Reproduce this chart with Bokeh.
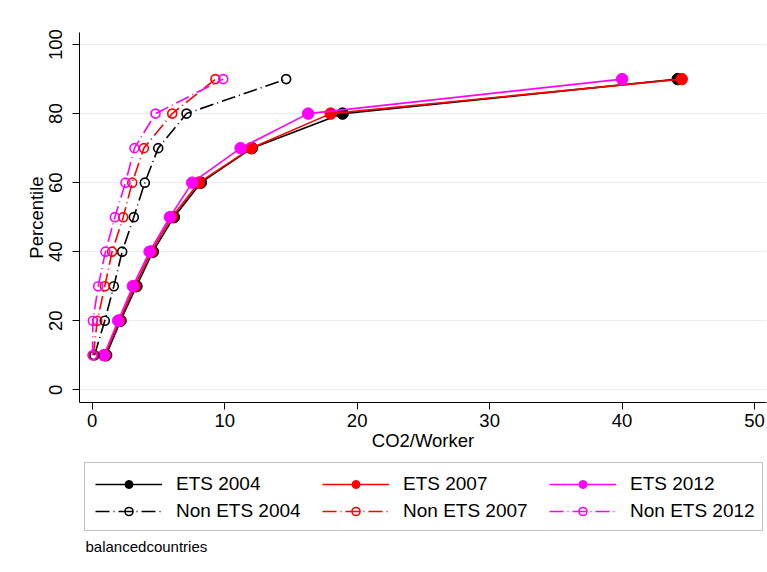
from bokeh.plotting import figure
from bokeh.models import Legend, LegendItem, Range1d, FixedTicker, Label, BoxAnnotation
from bokeh.layouts import column
from bokeh.embed import file_html
from bokeh.resources import INLINE

# Percentile of the CO2-per-worker distribution
percentiles = [10, 20, 30, 40, 50, 60, 70, 80, 90]

# ETS sectors
ets_2004 = [1.05, 2.14, 3.34, 4.58, 6.16, 8.20, 12.05, 18.9, 44.2]
ets_2007 = [0.95, 2.05, 3.20, 4.45, 6.00, 8.05, 12.0, 18.0, 44.5]
ets_2012 = [0.88, 1.96, 3.07, 4.33, 5.86, 7.55, 11.2, 16.3, 40.0]

# Non-ETS sectors
non_ets_2004 = [0.17, 0.95, 1.63, 2.26, 3.14, 3.97, 4.98, 7.12, 14.64]
non_ets_2007 = [0.08, 0.38, 0.95, 1.50, 2.34, 3.02, 3.90, 6.04, 9.30]
non_ets_2012 = [0.02, 0.05, 0.45, 1.00, 1.71, 2.51, 3.19, 4.78, 9.89]

x_ticks = [0, 10, 20, 30, 40, 50]
y_ticks = [0, 20, 40, 60, 80, 100]

FONT = "Liberation Sans"
W = 767
MAIN_H = 455
LEG_H = 117

colors = ["black", "red", "magenta"]
years = ["2004", "2007", "2012"]
ets_series = [ets_2004, ets_2007, ets_2012]
non_series = [non_ets_2004, non_ets_2007, non_ets_2012]
NON_DASH = "14 4 1 4"


def draw_series(fig):
    """Draw all six series on fig; returns the renderers for the legend."""
    ets_r, non_r = [], []
    for xs, c in zip(ets_series, colors):
        ln = fig.line(xs, percentiles, line_color=c, line_width=1.6)
        mk = fig.scatter(xs, percentiles, size=11.5, fill_color=c, line_color=c)
        ets_r.append([ln, mk])
    for xs, c in zip(non_series, colors):
        ln = fig.line(xs, percentiles, line_color=c, line_width=1.6, line_dash=NON_DASH)
        mk = fig.scatter(xs, percentiles, size=9, fill_color="white", fill_alpha=0,
                         line_color=c, line_width=1.6)
        non_r.append([ln, mk])
    return ets_r, non_r


p = figure(
    width=W, height=MAIN_H,
    output_backend="svg", toolbar_location=None,
    x_range=Range1d(-0.96, 50.9), y_range=Range1d(-3.7, 103.5),
    min_border_left=79, min_border_right=1, min_border_top=32, min_border_bottom=53,
    background_fill_color="white", border_fill_color="white",
)
p.outline_line_color = None

# axes
for ax in (p.xaxis[0], p.yaxis[0]):
    ax.axis_line_color = "black"
    ax.axis_line_width = 1
    ax.major_tick_out = 7
    ax.major_tick_in = 0
    ax.minor_tick_line_color = None
    ax.major_tick_line_color = "black"
    ax.major_label_text_font = FONT
    ax.major_label_text_font_size = "18.5px"
    ax.major_label_text_color = "black"
    ax.axis_label_text_font = FONT
    ax.axis_label_text_font_size = "18.5px"
    ax.axis_label_text_font_style = "normal"
    ax.axis_label_text_color = "black"

p.xaxis.ticker = FixedTicker(ticks=x_ticks)
p.yaxis.ticker = FixedTicker(ticks=y_ticks)
p.xaxis.axis_label = "CO2/Worker"
p.yaxis.axis_label = "Percentile"
p.xaxis.major_label_standoff = 4
p.xaxis.axis_label_standoff = 0
p.yaxis.major_label_standoff = 10
p.yaxis.axis_label_standoff = 0
p.yaxis.major_label_orientation = "vertical"

p.xgrid.grid_line_color = None
p.ygrid.grid_line_color = "#e6eef1"
p.ygrid.grid_line_width = 1.2

draw_series(p)

# legend panel underneath the chart; its view window excludes the data,
# so only the legend keys, the legend box and the note are visible
leg = figure(
    width=W, height=LEG_H, output_backend="svg", toolbar_location=None,
    x_range=Range1d(0, 1), y_range=Range1d(-2, -1),
    min_border=0, background_fill_color="white", border_fill_color="white",
)
leg.outline_line_color = None
leg.axis.visible = False
leg.grid.visible = False

ets_r, non_r = draw_series(leg)

# box around both legend rows (screen px from the panel's bottom-left)
leg.add_layout(BoxAnnotation(
    left=5, right=683, bottom=42, top=110,
    left_units="screen", right_units="screen", top_units="screen", bottom_units="screen",
    fill_color="white", fill_alpha=1, line_color="#333333", line_width=1,
))

# fixed label width keeps the three columns aligned across both rows
legend_style = dict(
    orientation="horizontal",
    label_text_font=FONT, label_text_font_size="19px", label_text_color="black",
    glyph_width=67, glyph_height=20, label_standoff=14, label_width=130,
    spacing=16, padding=0, margin=0,
    border_line_color=None, background_fill_alpha=0,
)
row_ets = Legend(items=[LegendItem(label="ETS " + yr, renderers=r)
                        for yr, r in zip(years, ets_r)],
                 location=(16, 77), **legend_style)
row_non = Legend(items=[LegendItem(label="Non ETS " + yr, renderers=r)
                        for yr, r in zip(years, non_r)],
                 location=(16, 50), **legend_style)
leg.add_layout(row_ets, "center")
leg.add_layout(row_non, "center")

leg.add_layout(Label(x=6, y=18, x_units="screen", y_units="screen",
                     text="balancedcountries", text_font=FONT, text_font_size="15px",
                     text_color="black"))

open("out.html", "w").write(file_html(column(p, leg), INLINE))
